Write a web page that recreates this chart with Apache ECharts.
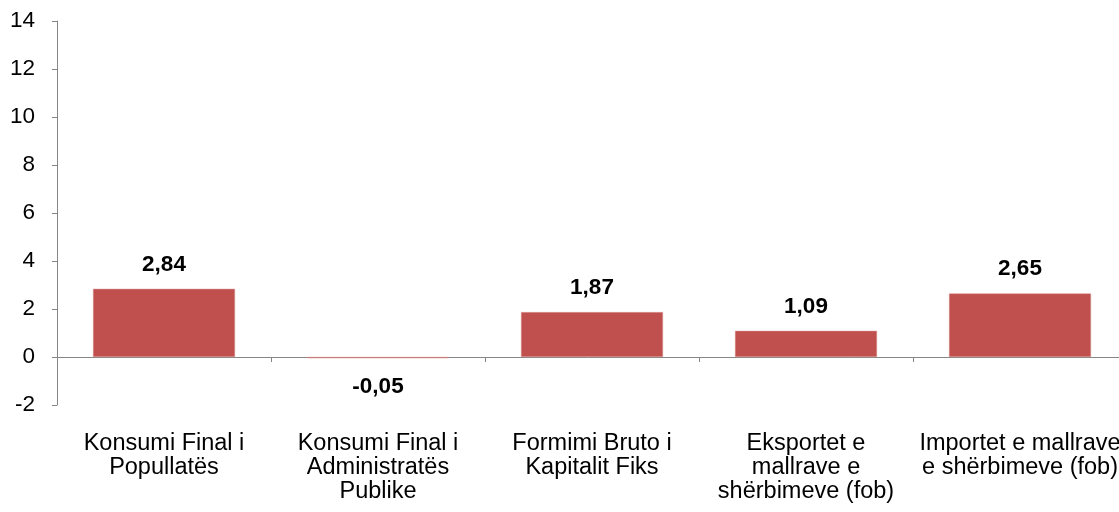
<!DOCTYPE html>
<html><head><meta charset="utf-8">
<script src="https://cdn.jsdelivr.net/npm/echarts@6/dist/echarts.min.js"></script>
<style>html,body{margin:0;padding:0;background:#fff}#c{width:1119px;height:512px}</style>
</head><body><div id="c"></div>
<script>
var categories = ["Konsumi Final i\nPopullatës", "Konsumi Final i\nAdministratës\nPublike", "Formimi Bruto i\nKapitalit Fiks", "Eksportet e\nmallrave e\nshërbimeve (fob)", "Importet e mallrave\ne shërbimeve (fob)"];
var values = [2.84, -0.05, 1.87, 1.09, 2.65];
var yTicks = {min: -2, max: 14, interval: 2};

var font = 'Liberation Sans, Arial';
var chart = echarts.init(document.getElementById('c'));
chart.setOption({
  animation: false,
  grid: {left: 57, top: 21, width: 1070, height: 384, outerBoundsMode: 'none', containLabel: false},
  xAxis: {
    type: 'category', data: categories,
    axisLine: {onZero: true, lineStyle: {color: '#868686', width: 1}},
    axisTick: {show: true, length: 5, lineStyle: {color: '#868686'}},
    axisLabel: {interval: 0, margin: 27, color: '#000', fontFamily: font, fontSize: 23.5, lineHeight: 23.7, verticalAlign: 'top'}
  },
  yAxis: {
    type: 'value', min: yTicks.min, max: yTicks.max, interval: yTicks.interval,
    axisLine: {show: true, lineStyle: {color: '#868686', width: 1}},
    axisTick: {show: true, length: 5, lineStyle: {color: '#868686'}},
    splitLine: {show: false},
    axisLabel: {margin: 22, color: '#000', fontFamily: font, fontSize: 22.5}
  },
  series: [{
    type: 'bar', barWidth: 142,
    data: values.map(function(v){ return {value: v, label: v < 0 ? {position: 'bottom', distance: 17} : {position: 'top', distance: 13}}; }),
    itemStyle: {color: '#C0504D', borderColor: '#D99694', borderWidth: 0.5},
    label: {
      show: true, color: '#000',
      fontFamily: font, fontSize: 22.5, fontWeight: 'bold',
      formatter: function(p){ return p.value.toFixed(2).replace('.', ','); }
    }
  }]
});
</script></body></html>
